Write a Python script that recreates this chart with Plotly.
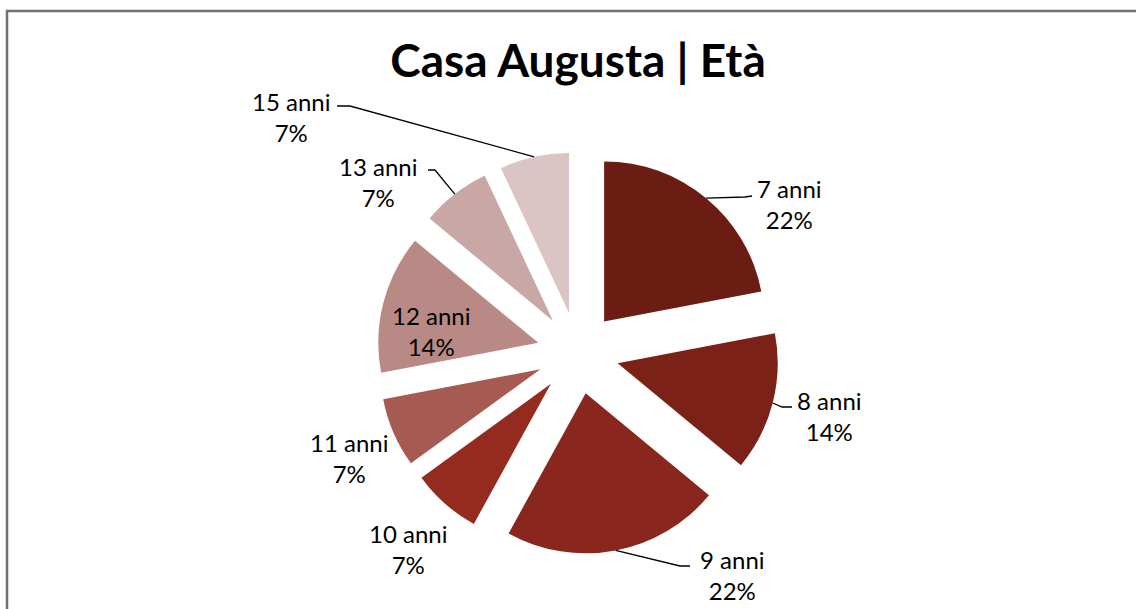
import math
import plotly.graph_objects as go

# ---- data ----
categories = ["7 anni", "8 anni", "9 anni", "10 anni", "11 anni", "12 anni", "13 anni", "15 anni"]
percentages = [22, 14, 22, 7, 7, 14, 7, 7]
colors = ["#6B1C13", "#7B2118", "#89261D", "#952B1F", "#A65A52", "#B98985", "#C9A7A6", "#DBC4C4"]
title_text = "Casa Augusta | Età"

# ---- layout / style (pixel positions in a 1136x609 canvas) ----
W, H = 1136, 609
CX, CY = 578, 353          # pie centre
BOX = 402                  # pie domain size
PULL = 0.256
label_centers = [(789, 204), (829, 416), (732, 575), (408, 549),
                 (349, 458), (431, 331), (378, 182), (291, 117)]
leader_starts = [[(752, 196), (745, 197)], [(792, 407), (782, 407)], [(690, 566), (680, 566)],
                 None, None, None, [(428, 170), (435, 170)], [(337, 106), (350, 106)]]
FONT = "Lato"


def px(x):
    return x / W


def py(y):
    return 1 - y / H


fig = go.Figure(go.Pie(
    labels=categories,
    values=percentages,
    sort=False,
    direction="clockwise",
    rotation=0,
    pull=[PULL] * len(categories),
    marker=dict(colors=colors, line=dict(width=0)),
    textinfo="none",
    hoverinfo="label+percent",
    showlegend=False,
    domain=dict(x=[px(CX - BOX / 2), px(CX + BOX / 2)], y=[py(CY + BOX / 2), py(CY - BOX / 2)]),
))

annotations = []
shapes = []
total = sum(percentages)
cum = 0
outer = BOX / 2  # radius + pull offset in pixels
for i, (cat, val) in enumerate(zip(categories, percentages)):
    mid = (cum + val / 2) / total * 2 * math.pi
    cum += val
    lx, ly = label_centers[i]
    annotations.append(dict(
        x=px(lx), y=py(ly), xref="paper", yref="paper",
        text=f"{cat}<br>{val}%", showarrow=False,
        xanchor="center", yanchor="middle", align="center",
        font=dict(family=FONT, size=24, color="#000000"),
    ))
    if leader_starts[i] is not None:
        ex = CX + outer * math.sin(mid)
        ey = CY - outer * math.cos(mid)
        (sx, sy), (bx, by) = leader_starts[i]
        path = f"M {px(sx)},{py(sy)} L {px(bx)},{py(by)} L {px(ex)},{py(ey)}"
        shapes.append(dict(type="path", path=path, xref="paper", yref="paper",
                           line=dict(color="#000000", width=1.3)))

# chart border (left and top visible)
shapes.append(dict(type="rect", xref="paper", yref="paper",
                   x0=px(7), x1=1.05, y0=-0.05, y1=py(11),
                   line=dict(color="#707070", width=2.5)))

fig.update_layout(
    width=W, height=H,
    margin=dict(l=0, r=0, t=0, b=0),
    paper_bgcolor="#FFFFFF",
    plot_bgcolor="#FFFFFF",
    title=dict(text=f"<b>{title_text}</b>", x=px(CX), xref="paper", xanchor="center",
               y=py(61), yref="container", yanchor="middle",
               font=dict(family=FONT, size=46, color="#000000")),
    annotations=annotations,
    shapes=shapes,
)

fig.write_html("out.html",
               config={"displayModeBar": False},
               post_script="document.body.style.margin='0';document.body.style.overflow='hidden';")
